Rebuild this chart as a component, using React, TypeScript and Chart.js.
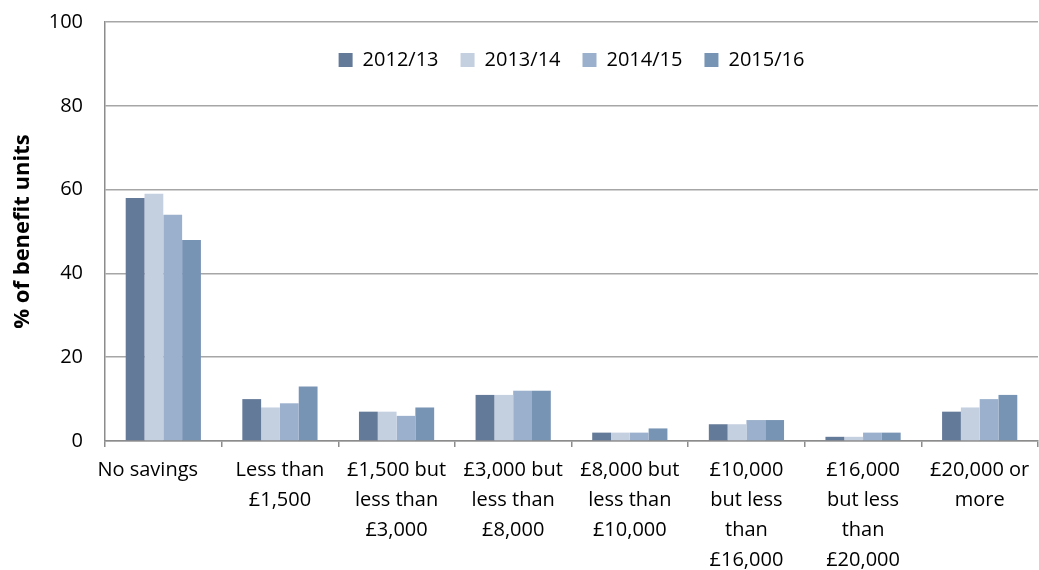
import React, { useEffect, useRef } from "react";
import { Chart, registerables } from "chart.js";

Chart.register(...registerables);

const categories: (string | string[])[] = [
  "No savings      ",
  ["Less than", "£1,500"],
  ["£1,500 but", "less than", "£3,000"],
  ["£3,000 but", "less than", "£8,000"],
  ["£8,000 but", "less than", "£10,000"],
  ["£10,000", "but less", "than", "£16,000"],
  ["£16,000", "but less", "than", "£20,000"],
  ["£20,000 or", "more"],
];

const seriesNames = ["2012/13", "2013/14", "2014/15", "2015/16"];
const values2012 = [58, 10, 7, 11, 2, 4, 1, 7];
const values2013 = [59, 8, 7, 11, 2, 4, 1, 8];
const values2014 = [54, 9, 6, 12, 2, 5, 2, 10];
const values2015 = [48, 13, 8, 12, 3, 5, 2, 11];
const seriesColors = ["#647a99", "#c4cfe0", "#9bb0cc", "#7894b5"];

const yTicks = [0, 20, 40, 60, 80, 100];
const yTitle = "% of benefit units";

const FONT = "'Open Sans', sans-serif";

// Lets the (top) legend overlap the plot area instead of taking space from it,
// and centres it over the plot area.
const overlayLegend = {
  id: "overlayLegend",
  beforeLayout(chart: any) {
    const lg = chart.legend;
    if (lg && !lg._overlayPatched) {
      const orig = lg.fit;
      lg.fit = function (this: any) {
        orig.call(this);
        this._realHeight = this.height;
        this.height = 0;
      };
      lg._overlayPatched = true;
    }
  },
  afterLayout(chart: any) {
    const lg = chart.legend;
    if (lg && lg._realHeight !== undefined) {
      const ca = chart.chartArea;
      lg.top = ca.top;
      lg.height = lg._realHeight;
      lg.bottom = lg.top + lg._realHeight;
      lg.left = ca.left;
      lg.right = ca.right;
      lg.width = ca.right - ca.left;
    }
  },
};

export default function App() {
  const ref = useRef<HTMLCanvasElement | null>(null);

  useEffect(() => {
    if (!ref.current) return;
    const all = [values2012, values2013, values2014, values2015];
    const chart = new Chart(ref.current, {
      type: "bar",
      data: {
        labels: categories,
        datasets: all.map((vals, i) => ({
          label: seriesNames[i],
          data: vals,
          backgroundColor: seriesColors[i],
          borderWidth: 0,
          barPercentage: 1,
          categoryPercentage: 0.645,
        })),
      },
      plugins: [overlayLegend],
      options: {
        animation: false,
        responsive: true,
        maintainAspectRatio: false,
        layout: { padding: { top: 22, right: 1, left: 0, bottom: 0 } },
        plugins: {
          tooltip: { enabled: false },
          legend: {
            position: "top",
            align: "center",
            title: { display: true, text: " ", font: { size: 5, family: FONT, lineHeight: 1.2 }, padding: 0 },
            labels: {
              boxWidth: 14,
              boxHeight: 14,
              padding: 22,
              color: "#000",
              font: { family: FONT, size: 20 },
            },
          },
        },
        scales: {
          x: {
            grid: {
              offset: true,
              drawOnChartArea: false,
              drawTicks: true,
              tickLength: 6,
              color: "#8c8c8c",
              lineWidth: 1.5,
            },
            border: { color: "#8c8c8c", width: 1.5 },
            ticks: {
              color: "#000",
              font: { family: FONT, size: 20, lineHeight: 1.5 },
              padding: 8,
              maxRotation: 0,
              autoSkip: false,
            },
            afterFit: (scale: any) => {
              scale.height = 129;
            },
          },
          y: {
            min: 0,
            max: 100,
            afterBuildTicks: (scale: any) => {
              scale.ticks = yTicks.map((v) => ({ value: v }));
            },
            grid: {
              color: "#a6a6a6",
              lineWidth: 1.5,
              drawTicks: false,
            },
            border: { color: "#8c8c8c", width: 1.5 },
            ticks: {
              color: "#000",
              font: { family: FONT, size: 20 },
              padding: 22,
            },
            title: {
              display: true,
              text: yTitle,
              color: "#000",
              font: { family: FONT, size: 22, weight: "bold" },
              padding: { top: 10, bottom: 0 },
            },
            afterFit: (scale: any) => {
              scale.width = 105;
              scale.paddingTop = 0;
              scale.paddingBottom = 0;
            },
          },
        },
      },
    });
    return () => chart.destroy();
  }, []);

  return (
    <div style={{ position: "fixed", left: 0, top: 0, width: 1039, height: 570, background: "#fff" }}>
      <canvas ref={ref} />
    </div>
  );
}
